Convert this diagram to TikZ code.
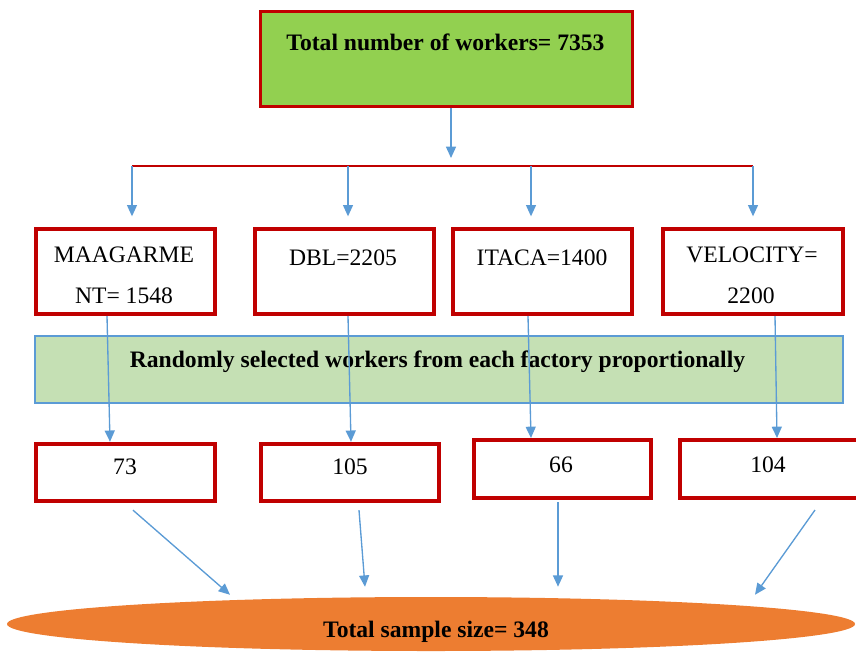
\documentclass[tikz,border=0pt]{standalone}
\usepackage{fontspec}
\setmainfont{Liberation Serif}
\usepackage{tikz}
\usetikzlibrary{arrows.meta,calc,positioning,shapes.geometric}
\definecolor{boxred}{HTML}{C00000}
\definecolor{topgreen}{HTML}{92D050}
\definecolor{bandgreen}{HTML}{C5E0B4}
\definecolor{bandblue}{HTML}{5B9BD5}
\definecolor{arrblue}{HTML}{5B9BD5}
\definecolor{ellorange}{HTML}{ED7D31}
\tikzset{
  topbox/.style  = {draw=boxred, line width=2.2pt, fill=topgreen, inner sep=0pt},
  facbox/.style  = {draw=boxred, line width=3pt, fill=white, inner sep=0pt,
                    minimum width=134.25pt, minimum height=63.75pt},
  numbox/.style  = {draw=boxred, line width=3pt, fill=white, inner sep=0pt,
                    minimum width=134pt, minimum height=43pt},
  band/.style    = {draw=bandblue, line width=0.8pt, fill=bandgreen, inner sep=0pt},
  lbl/.style     = {anchor=base, inner sep=0pt, font=\fontsize{17.7}{21}\selectfont},
  blbl/.style    = {lbl, font=\fontsize{17.7}{21}\selectfont\bfseries},
  bus/.style     = {draw=boxred, line width=1.5pt},
  arr/.style     = {-{Triangle[length=8.5pt, width=7.5pt]}, draw=arrblue, fill=arrblue,
                    line width=1pt},
}

\begin{document}
\begin{tikzpicture}[x=0.75pt,y=-0.75pt]
  \useasboundingbox (0,0) rectangle (856,651);
  \clip (0,0) rectangle (856,651);
  % total population
  \node[topbox, minimum width=279pt, minimum height=71.25pt] (tot) at (446.5,59) {};
  \node[blbl] (totlbl) at (445.5,50) {Total number of workers= 7353};
  % split into factories
  \coordinate (hub) at (451,166);
  \coordinate (bl) at (132,166);
  \coordinate (br) at (753,166);
  \draw[arr, shorten >=6pt] (tot.south -| hub) -- (hub);
  \draw[bus] (bl) -- (br);
  % factories
  \node[facbox] (maag) at (125.5,271.5) {};
  \node[facbox] (dbl) at (344.5,271.5) {};
  \node[facbox] (itaca) at (542.5,271.5) {};
  \node[facbox, minimum width=135pt] (velo) at (753,271.5) {};
  \node[lbl] at (124,262) {MAAGARME};
  \node[lbl] at (124,303) {NT= 1548};
  \node[lbl] at (343,265) {DBL=2205};
  \node[lbl] at (542,265) {ITACA=1400};
  \node[lbl] at (752,262) {VELOCITY=};
  \node[lbl] at (751,303) {2200};
  \coordinate (b1) at (132,166);
  \coordinate (b2) at (348,166);
  \coordinate (b3) at (531,166);
  \coordinate (b4) at (753,166);
  \draw[arr, shorten >=8pt] (b1) -- (b1 |- maag.north);
  \draw[arr, shorten >=8pt] (b2) -- (b2 |- dbl.north);
  \draw[arr, shorten >=8pt] (b3) -- (b3 |- itaca.north);
  \draw[arr, shorten >=8pt] (b4) -- (b4 |- velo.north);
  % sampling step
  \node[band, minimum width=606pt, minimum height=50.25pt] (samp) at (439,369.5) {};
  \node[blbl] at (437.5,367) {Randomly selected workers from each factory proportionally};
  % sample per factory
  \node[numbox] (s73) at (125.5,472.5) {};
  \node[numbox, minimum width=133.5pt] (s105) at (350,472.5) {};
  \node[numbox, minimum width=132.75pt, minimum height=43.5pt] (s66) at (562.5,469) {};
  \node[numbox, minimum width=133.5pt, minimum height=43.5pt] (s104) at (769,469) {};
  \node[lbl] at (125,474) {73};
  \node[lbl] at (350,474) {105};
  \node[lbl] at (561,472) {66};
  \node[lbl] at (768,472) {104};
  \draw[arr] ($(maag.south)+(-18.5,0)$) -- ($(s73.north)+(-15.5,0)$);
  \draw[arr] ($(dbl.south)+(3.5,0)$) -- ($(s105.north)+(1,0)$);
  \draw[arr] ($(itaca.south)+(-14.5,0)$) -- ($(s66.north)+(-31.5,0)$);
  \draw[arr] ($(velo.south)+(22,0)$) -- ($(s104.north)+(8,0)$);
  % total sample
  \node[ellipse, fill=ellorange, inner sep=0pt, minimum width=636pt,
        minimum height=40.5pt] (total) at (431,624) {};
  \node[blbl] at (436,637) {Total sample size= 348};
  \draw[arr] ($(s73.south)+(7.5,7)$) -- ($(total.north)+(-201,-2)$);
  \draw[arr] ($(s105.south)+(9,7)$) -- ($(total.north)+(-66,-10)$);
  \draw[arr] ($(s66.south)+(-4.5,2)$) -- ($(total.north)+(127,-10)$);
  \draw[arr] ($(s104.south)+(46,10)$) -- ($(total.north)+(324,-2)$);
\end{tikzpicture}
\end{document}
